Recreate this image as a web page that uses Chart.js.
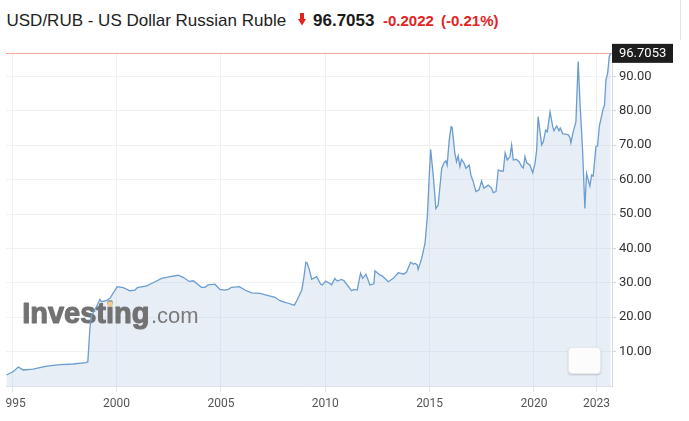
<!DOCTYPE html>
<html>
<head>
<meta charset="utf-8">
<script src="https://cdn.jsdelivr.net/npm/chart.js@4.4.1/dist/chart.umd.min.js"></script>
<style>
  html, body { margin: 0; padding: 0; background: #fff; }
  body { width: 689px; height: 421px; position: relative; overflow: hidden; font-family: "Liberation Sans", Arial, sans-serif; }
  .t { position: absolute; white-space: nowrap; line-height: 1; }
  #name { left: 6.5px; top: 11.6px; font-size: 17px; color: #222; }
  #arrow { position: absolute; left: 298px; top: 13px; }
  #last { left: 313px; top: 11.6px; font-size: 17px; font-weight: bold; color: #1a1a1a; }
  #chg { left: 383px; top: 13.3px; font-size: 15px; font-weight: bold; color: #e3231f; }
  #pct { left: 441px; top: 13.3px; font-size: 15px; font-weight: bold; color: #e3231f; }
  #edge { position: absolute; left: 680px; top: 0; width: 1px; height: 40px; background: #e2e2e2; }
  #wrap { position: absolute; left: 6px; top: 0; width: 683px; height: 421px; overflow: hidden; }
  #chart { position: absolute; left: -26px; top: 0; }
  #btn { position: absolute; left: 568px; top: 347px; width: 33px; height: 27px; background: #fcfcfd;
         border-radius: 4px; box-shadow: 0 1px 2px rgba(0,0,0,0.18); border: 1px solid #e6e8ec; box-sizing: border-box; }
</style>
</head>
<body>
<div class="t" id="name">USD/RUB - US Dollar Russian Ruble</div>
<svg id="arrow" width="8" height="13" viewBox="0 0 8 13">
  <rect x="2" y="0" width="4" height="7" fill="#e3231f"/>
  <polygon points="0,6 8,6 4,12.5" fill="#e3231f"/>
</svg>
<div class="t" id="last">96.7053</div>
<div class="t" id="chg">-0.2022</div>
<div class="t" id="pct">(-0.21%)</div>
<div id="edge"></div>
<div id="wrap"><canvas id="chart" width="709" height="421"></canvas></div>
<div id="btn"></div>

<script>
// USD/RUB monthly-ish closes
const years = [
  1994.72, 1995.05, 1995.29, 1995.53, 1996.00, 1996.65, 1997.29, 1997.92, 1998.53, 1998.62,
  1998.72, 1998.80, 1999.04, 1999.20, 1999.28, 1999.49, 1999.68, 2000.03, 2000.32, 2000.64,
  2000.88, 2001.00, 2001.44, 2001.84, 2002.16, 2002.56, 2002.95, 2003.19, 2003.48, 2003.67,
  2004.07, 2004.23, 2004.39, 2004.71, 2004.95, 2005.19, 2005.35, 2005.51, 2005.88, 2006.15,
  2006.47, 2006.87, 2007.27, 2007.59, 2007.83, 2008.15, 2008.39, 2008.52, 2008.65, 2008.88,
  2008.98, 2009.07, 2009.13, 2009.24, 2009.35, 2009.59, 2009.78, 2009.86, 2010.02, 2010.22,
  2010.30, 2010.46, 2010.57, 2010.78, 2010.90, 2011.26, 2011.37, 2011.53, 2011.69, 2011.79,
  2011.95, 2012.14, 2012.33, 2012.38, 2012.62, 2012.75, 2013.02, 2013.26, 2013.50, 2013.66,
  2013.77, 2013.90, 2014.09, 2014.22, 2014.30, 2014.41, 2014.45, 2014.62, 2014.78, 2014.89,
  2014.98, 2015.05, 2015.18, 2015.30, 2015.41, 2015.58, 2015.69, 2015.78, 2015.84, 2015.94,
  2016.03, 2016.08, 2016.21, 2016.29, 2016.37, 2016.45, 2016.53, 2016.64, 2016.74, 2016.90,
  2016.98, 2017.09, 2017.22, 2017.37, 2017.49, 2017.60, 2017.81, 2017.97, 2018.05, 2018.18,
  2018.29, 2018.41, 2018.53, 2018.62, 2018.72, 2018.85, 2018.93, 2019.01, 2019.15, 2019.29,
  2019.41, 2019.49, 2019.57, 2019.65, 2019.81, 2019.94, 2020.05, 2020.13, 2020.20, 2020.37,
  2020.45, 2020.56, 2020.64, 2020.77, 2020.90, 2020.96, 2021.09, 2021.20, 2021.26, 2021.38,
  2021.52, 2021.64, 2021.72, 2021.77, 2021.88, 2022.01, 2022.12, 2022.20, 2022.33, 2022.44,
  2022.52, 2022.68, 2022.76, 2022.84, 2022.97, 2023.05, 2023.13, 2023.32, 2023.38, 2023.45,
  2023.53, 2023.61, 2023.68
];
const rates = [
  3.2, 4.2, 5.5, 4.65, 4.9, 5.8, 6.2, 6.4, 6.8, 7.0,
  16.8, 20.5, 23.1, 25.2, 24.5, 24.8, 25.5, 28.9, 28.6, 27.7,
  27.9, 28.6, 29.1, 30.3, 31.3, 31.8, 32.2, 31.6, 30.4, 30.6,
  28.7, 28.7, 29.4, 29.6, 28.1, 27.9, 28.1, 28.7, 28.9, 27.9,
  27.1, 26.9, 26.3, 25.8, 24.8, 24.2, 23.7, 23.5, 25.0, 28.0,
  31.8, 36.0, 35.8, 33.7, 31.0, 31.8, 29.6, 29.4, 30.5, 29.8,
  29.4, 31.3, 30.5, 31.0, 30.6, 27.7, 28.1, 27.9, 32.8, 31.3,
  32.5, 29.4, 29.7, 33.5, 32.3, 31.9, 30.3, 31.3, 32.9, 32.7,
  32.5, 33.2, 36.0, 35.4, 35.7, 35.2, 33.9, 37.1, 41.5, 49.2,
  60.8, 68.8, 60.8, 51.6, 52.6, 63.3, 64.9, 65.5, 64.2, 71.5,
  75.4, 75.2, 67.6, 65.2, 66.9, 63.8, 65.9, 64.9, 63.3, 64.2,
  61.3, 59.4, 56.5, 57.0, 59.6, 57.5, 58.4, 57.5, 56.2, 56.5,
  62.8, 62.5, 62.5, 67.8, 65.7, 66.7, 70.1, 65.7, 65.9, 65.2,
  63.8, 63.4, 66.7, 64.9, 64.2, 62.0, 64.7, 68.6, 78.3, 70.1,
  71.0, 74.4, 73.9, 79.7, 75.4, 74.2, 75.6, 74.2, 75.0, 73.3,
  73.2, 73.0, 72.3, 70.7, 73.9, 76.8, 94.3, 83.1, 68.6, 51.6,
  61.8, 58.1, 61.3, 61.0, 69.6, 69.8, 75.4, 80.7, 81.6, 89.0,
  90.9, 95.9, 96.7053
];
const xTicks = [1995, 2000, 2005, 2010, 2015, 2020, 2023];
const yTicks = [10, 20, 30, 40, 50, 60, 70, 80, 90];
const lastPrice = 96.7053;

const overlay = {
    id: 'overlay',
    beforeDatasetsDraw(chart) {
        const { ctx, chartArea, scales } = chart;
        ctx.save();
        // watermark, drawn between the area fill and the line
        const wx = 42.2, wy = 323;
        ctx.textBaseline = 'alphabetic';
        ctx.textAlign = 'left';
        ctx.font = 'bold 29px "Liberation Sans", Arial, sans-serif';
        ctx.fillStyle = '#727272';
        ctx.strokeStyle = '#727272';
        ctx.lineWidth = 1.1;
        ctx.lineJoin = 'round';
        ctx.fillText('Investing', wx, wy);
        ctx.strokeText('Investing', wx, wy);
        const w = ctx.measureText('Investing').width;
        const wi = ctx.measureText('Invest').width;
        ctx.fillStyle = '#f3cb92';
        ctx.fillRect(wx + wi + 1.5, wy - 21.5, 5, 5);
        ctx.font = '22px "Liberation Sans", Arial, sans-serif';
        ctx.fillStyle = '#7a7a7a';
        ctx.fillText('.com', wx + w + 1.5, wy);
        // last price line
        const py = Math.round(scales.y.getPixelForValue(lastPrice)) + 0.5;
        ctx.strokeStyle = '#f0a79c';
        ctx.lineWidth = 1;
        ctx.beginPath();
        ctx.moveTo(chartArea.left, py);
        ctx.lineTo(chartArea.right, py);
        ctx.stroke();
        ctx.restore();
    },
    afterDraw(chart) {
        const { ctx, chartArea, scales } = chart;
        const py = scales.y.getPixelForValue(lastPrice);
        ctx.save();
        ctx.fillStyle = '#1d1d1d';
        ctx.fillRect(chartArea.right, py - 9.5, 61, 19);
        ctx.fillStyle = '#ffffff';
        ctx.font = '13px Roboto, sans-serif';
        ctx.textBaseline = 'middle';
        ctx.textAlign = 'left';
        ctx.fillText(lastPrice.toFixed(4), chartArea.right + 7, py + 0.5);
        ctx.restore();
    }
};

new Chart(document.getElementById('chart'), {
    type: 'line',
    data: {
        datasets: [{
            data: years.map((x, i) => ({ x: x, y: rates[i] })),
            borderColor: '#6a9dd0',
            borderWidth: 1.3,
            backgroundColor: 'rgba(178,198,226,0.30)',
            fill: 'origin',
            pointRadius: 0,
            tension: 0
        }]
    },
    options: {
        responsive: false,
        animation: false,
        events: [],
        layout: { padding: { left: 26, top: 52, right: 0, bottom: 0 } },
        plugins: {
            legend: { display: false },
            tooltip: { enabled: false },
            filler: { drawTime: 'beforeDatasetsDraw' }
        },
        scales: {
            x: {
                type: 'linear',
                min: 1994.70,
                max: 2023.74,
                afterBuildTicks: (s) => { s.ticks = xTicks.map(v => ({ value: v })); },
                afterFit: (s) => { s.height = 35; s.paddingLeft = 0; s.paddingRight = 0; },
                grid: { color: '#edf0f4', tickColor: '#e2e6eb', tickLength: 6 },
                border: { color: '#dde2e9' },
                ticks: {
                    color: '#555',
                    padding: 5,
                    maxRotation: 0,
                    autoSkip: false,
                    font: { family: 'Roboto, sans-serif', size: 12 },
                    callback: (v) => String(v)
                }
            },
            y: {
                position: 'right',
                min: 0,
                max: 97.1,
                afterBuildTicks: (s) => { s.ticks = yTicks.map(v => ({ value: v })); },
                afterFit: (s) => { s.width = 77; s.paddingTop = 0; s.paddingBottom = 0; },
                grid: { color: '#eff1f4', tickColor: '#d3d9e1', tickLength: 4 },
                border: { color: '#d3dbe5' },
                ticks: {
                    color: '#333',
                    padding: 3,
                    font: { family: 'Roboto, sans-serif', size: 13 },
                    callback: (v) => Number(v).toFixed(2)
                }
            }
        }
    },
    plugins: [overlay]
});
</script>
</body>
</html>
